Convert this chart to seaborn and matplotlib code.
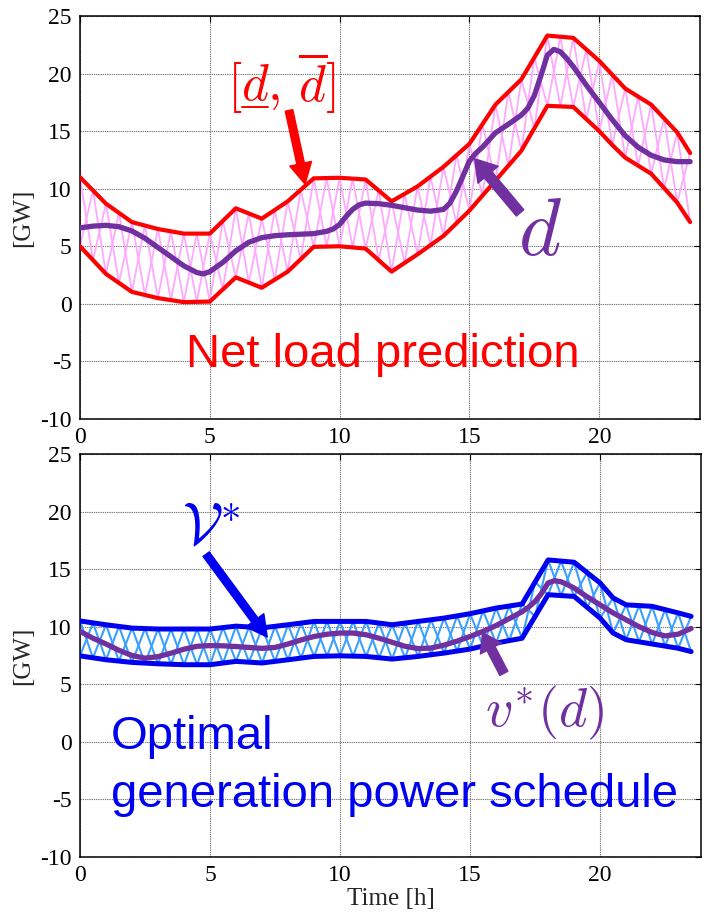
import numpy as np
import pandas as pd
import matplotlib
matplotlib.use("Agg")
import matplotlib.pyplot as plt
import seaborn as sns
from matplotlib.lines import Line2D

# ---------------- data ----------------
hours = [0, 1, 2, 3, 4, 5, 6, 7, 8, 9, 10, 11, 12, 13, 14, 15, 16, 17, 18, 19, 20, 20.5, 21, 22, 23, 23.5]

d_upper = [11.0, 8.7, 7.1, 6.5, 6.1, 6.1, 8.3, 7.4, 8.9, 10.9, 10.95, 10.8, 8.9, 10.2, 11.9, 13.9,
           17.3, 19.5, 23.3, 23.1, 21.1, 19.9, 18.7, 17.3, 14.9, 13.1]
d_lower = [5.0, 2.6, 1.04, 0.5, 0.15, 0.2, 2.3, 1.4, 2.8, 4.95, 5.0, 4.8, 2.8, 4.3, 5.9, 8.1,
           10.7, 13.3, 17.2, 17.1, 15.0, 13.8, 12.7, 11.3, 8.8, 7.1]

v_upper = [10.5, 10.17, 9.88, 9.8, 9.8, 9.8, 10.05, 9.9, 10.17, 10.46, 10.46, 10.46, 10.17, 10.46,
           10.75, 11.13, 11.62, 11.97, 15.8, 15.6, 13.8, 12.5, 11.9, 11.77, 11.2, 10.9]
v_lower = [7.47, 7.13, 6.9, 6.78, 6.7, 6.7, 6.99, 6.85, 7.13, 7.42, 7.47, 7.42, 7.19, 7.42,
           7.71, 8.06, 8.58, 9.0, 12.78, 12.63, 10.75, 9.45, 8.87, 8.5, 8.13, 7.84]

t_d = [0, 0.5, 1, 1.5, 2, 2.5, 3, 3.5, 4, 4.5, 4.75, 5, 5.5, 6, 6.5, 7, 7.5, 8, 8.5, 9,
       9.5, 9.75, 10, 10.25, 10.5, 10.75, 11, 11.5, 12, 12.5, 13, 13.5, 14, 14.25, 14.5, 14.75,
       15, 15.25, 15.5, 16, 16.5, 17, 17.25, 17.5, 17.75, 18, 18.25, 18.5, 18.75, 19,
       19.5, 20, 20.5, 21, 21.5, 22, 22.5, 23, 23.5]
d_nominal = [6.6, 6.75, 6.82, 6.7, 6.33, 5.7, 4.9, 4.1, 3.3, 2.72, 2.6, 2.8, 3.6, 4.6, 5.35, 5.75,
             5.92, 6.0, 6.05, 6.1, 6.3, 6.5, 6.9, 7.6, 8.2, 8.6, 8.75, 8.7, 8.56, 8.35, 8.15, 8.05,
             8.2, 8.75, 9.8, 11.1, 12.4, 13.1, 13.6, 14.85, 15.6, 16.4, 17.0, 18.1, 19.8, 21.6,
             22.1, 21.9, 21.3, 20.6, 19.0, 17.5, 16.0, 14.6, 13.6, 12.9, 12.5, 12.35, 12.35]

t_v = [0, 0.5, 1, 1.5, 2, 2.5, 3, 3.5, 4, 4.5, 5, 5.5, 6, 6.5, 7, 7.5, 8, 8.5, 9, 9.5,
       10, 10.5, 11, 11.5, 12, 12.5, 13, 13.5, 14, 14.5, 15, 15.5, 16, 16.5, 17, 17.25, 17.5,
       17.75, 18, 18.25, 18.5, 18.75, 19, 19.5, 20, 20.5, 21, 21.5, 22, 22.5, 23, 23.25, 23.5]
v_nominal = [9.6, 9.0, 8.5, 7.95, 7.5, 7.27, 7.4, 7.7, 8.05, 8.3, 8.36, 8.34, 8.28, 8.2, 8.12, 8.2,
             8.5, 8.85, 9.15, 9.35, 9.45, 9.45, 9.3, 9.0, 8.65, 8.3, 8.1, 8.15, 8.4, 8.75, 9.15,
             9.6, 10.1, 10.7, 11.3, 11.7, 12.2, 12.9, 13.8, 14.0, 13.9, 13.65, 13.36, 12.6, 11.9,
             11.2, 10.6, 10.0, 9.5, 9.2, 9.35, 9.6, 9.85]

x_ticks = [0, 5, 10, 15, 20]
y_ticks = [-10, -5, 0, 5, 10, 15, 20, 25]

# ---------------- style ----------------
sns.set_style("white")
plt.rcParams["font.family"] = ["Liberation Serif", "DejaVu Serif"]
plt.rcParams["mathtext.fontset"] = "cm"
plt.rcParams["axes.unicode_minus"] = False

W, H = 704, 914
fig = plt.figure(figsize=(W / 100, H / 100), dpi=100)


def px_axes(l, t, r, b):
    return fig.add_axes([l / W, 1 - b / H, (r - l) / W, (b - t) / H])


ax1 = px_axes(80, 16, 700, 419)
ax2 = px_axes(80, 454, 701, 857)

RED = "#ff0000"
PINK = "#ffa8ff"
PURPLE = "#7030a0"
BLUE = "#0000f0"
LBLUE = "#3aa0ff"


def zigzag(ax, t, lo, hi, color, lw):
    # hatch drawn as two crossing zig-zags between the two bounds
    t = np.asarray(t, float)
    ts = np.arange(0, t[-1] + 1e-9, 0.5)
    lo_i = np.interp(ts, t, lo)
    hi_i = np.interp(ts, t, hi)
    k = np.arange(len(ts))
    ya = np.where(k % 2 == 0, lo_i, hi_i)
    yb = np.where(k % 2 == 0, hi_i, lo_i)
    ax.plot(ts, ya, color=color, lw=lw, zorder=2, solid_joinstyle="miter")
    ax.plot(ts, yb, color=color, lw=lw, zorder=2, solid_joinstyle="miter")


def style_axes(ax):
    ax.set_xlim(0, 23.88)
    ax.set_ylim(-10, 25)
    ax.set_xticks(x_ticks)
    ax.set_yticks(y_ticks)
    ax.grid(True, color="#7a7a7a", linestyle=(0, (1.2, 0.8)), lw=0.8, zorder=0)
    for s in ax.spines.values():
        s.set_visible(True)
        s.set_color("black")
        s.set_linewidth(1.1)
    ax.tick_params(direction="in", length=4, width=0.8, top=True, right=True,
                   labelsize=17, pad=6, colors="black")
    ax.set_ylabel("[GW]", fontsize=18, labelpad=4)
    ax.set_xlabel("")


df_top = pd.DataFrame({"t": hours, "lo": d_lower, "hi": d_upper})
df_bot = pd.DataFrame({"t": hours, "lo": v_lower, "hi": v_upper})
df_d = pd.DataFrame({"t": t_d, "d": d_nominal})
df_v = pd.DataFrame({"t": t_v, "v": v_nominal})

# ---------------- top panel ----------------
zigzag(ax1, hours, d_lower, d_upper, PINK, 1.3)
sns.lineplot(data=df_top, x="t", y="hi", ax=ax1, color=RED, lw=3.0, zorder=3, sort=False)
sns.lineplot(data=df_top, x="t", y="lo", ax=ax1, color=RED, lw=3.0, zorder=3, sort=False)
sns.lineplot(data=df_d, x="t", y="d", ax=ax1, color=PURPLE, lw=3.8, zorder=4, sort=False)
style_axes(ax1)

ax1.text(4.1, -5.5, "Net load prediction", color=RED, fontsize=34,
         family=["Liberation Sans"], ha="left", va="baseline", zorder=6)
ax1.text(7.77, 19.2, r"$[d,\,\overline{d}]$", color=RED, fontsize=37, ha="center", va="center", zorder=6)
ax1.annotate("", xy=(8.67, 10.4), xytext=(8.05, 16.8),
             arrowprops=dict(facecolor=RED, edgecolor=RED, width=5.5, headwidth=16,
                             headlength=15, shrink=0), zorder=6)
ax1.text(17.7, 5.9, r"$d$", color=PURPLE, fontsize=58, ha="center", va="center", zorder=6)
ax1.annotate("", xy=(15.2, 12.6), xytext=(16.95, 7.9),
             arrowprops=dict(facecolor=PURPLE, edgecolor=PURPLE, width=7, headwidth=19,
                             headlength=15, shrink=0), zorder=6)
# underline of the lower bound symbol
fig.add_artist(Line2D([242 / W, 268 / W], [1 - 106.5 / H] * 2, transform=fig.transFigure,
                      color=RED, lw=1.4))

# ---------------- bottom panel ----------------
zigzag(ax2, hours, v_lower, v_upper, LBLUE, 1.5)
sns.lineplot(data=df_bot, x="t", y="hi", ax=ax2, color=BLUE, lw=3.6, zorder=3, sort=False)
sns.lineplot(data=df_bot, x="t", y="lo", ax=ax2, color=BLUE, lw=3.6, zorder=3, sort=False)
sns.lineplot(data=df_v, x="t", y="v", ax=ax2, color=PURPLE, lw=3.8, zorder=4, sort=False)
style_axes(ax2)
ax2.set_xlabel("Time [h]", fontsize=18, labelpad=1)

ax2.text(1.2, -0.6, "Optimal", color=BLUE, fontsize=34, family=["Liberation Sans"],
         ha="left", va="baseline", zorder=6)
ax2.text(1.2, -5.65, "generation power schedule", color=BLUE, fontsize=34,
         family=["Liberation Sans"], ha="left", va="baseline", zorder=6)
ax2.text(5.05, 18.4, r"$\mathcal{V}^{*}$", color=BLUE, fontsize=42, ha="center", va="center", zorder=6)
ax2.annotate("", xy=(7.2, 9.1), xytext=(4.85, 16.3),
             arrowprops=dict(facecolor=BLUE, edgecolor=BLUE, width=5.5, headwidth=16,
                             headlength=15, shrink=0), zorder=6)
ax2.text(17.88, 2.5, r"$v^{*}(d)$", color=PURPLE, fontsize=39, ha="center", va="center", zorder=6)
ax2.annotate("", xy=(15.48, 9.5), xytext=(16.3, 5.95),
             arrowprops=dict(facecolor=PURPLE, edgecolor=PURPLE, width=6.5, headwidth=17,
                             headlength=13, shrink=0), zorder=6)

fig.savefig("out.png", dpi=100)
